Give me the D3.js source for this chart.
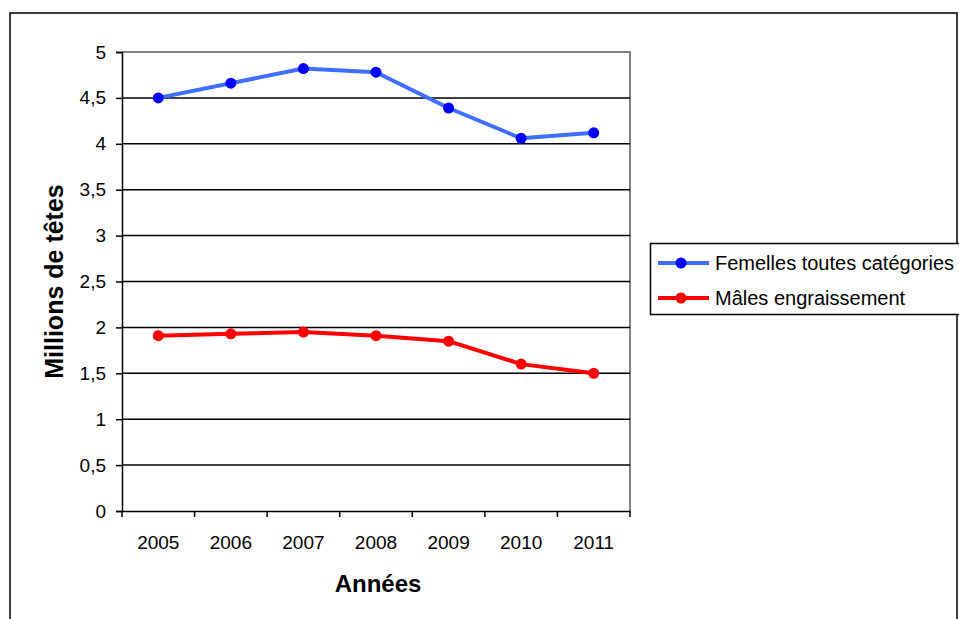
<!DOCTYPE html>
<html>
<head>
<meta charset="utf-8">
<script src="https://cdn.jsdelivr.net/npm/d3@7"></script>
<style>
  html, body { margin: 0; padding: 0; background: #fff; }
  svg { display: block; font-family: "Liberation Sans", Arial, sans-serif; }
</style>
</head>
<body>
<svg id="chart" width="959" height="619"></svg>
<script>
// Cheptel par année (millions de têtes)
const years = ["2005", "2006", "2007", "2008", "2009", "2010", "2011"];
const femelles = [4.5, 4.66, 4.82, 4.78, 4.39, 4.06, 4.12];
const males = [1.91, 1.93, 1.95, 1.91, 1.85, 1.6, 1.5];
const yTicks = [0, 0.5, 1, 1.5, 2, 2.5, 3, 3.5, 4, 4.5, 5];
const seriesNames = ["Femelles toutes catégories", "Mâles engraissement"];

const svg = d3.select("#chart");
const FONT = "Liberation Sans, Arial, sans-serif";

// outer frame
svg.append("rect")
  .attr("x", 10).attr("y", 13).attr("width", 947).attr("height", 620)
  .attr("fill", "#fff").attr("stroke", "#000").attr("stroke-width", 1.5);

const plot = { left: 122, top: 52, right: 630, bottom: 511 };

const x = d3.scaleBand().domain(years).range([plot.left, plot.right]);
const y = d3.scaleLinear().domain([0, 5]).range([plot.bottom, plot.top]);

// plot frame (top and right in grey)
svg.append("path")
  .attr("d", `M${plot.left},${plot.top}H${plot.right}V${plot.bottom}`)
  .attr("fill", "none").attr("stroke", "#808080").attr("stroke-width", 2);

// horizontal gridlines
svg.append("g").selectAll("line")
  .data(yTicks.filter(t => t > 0 && t < 5))
  .join("line")
  .attr("x1", plot.left).attr("x2", plot.right)
  .attr("y1", d => y(d)).attr("y2", d => y(d))
  .attr("stroke", "#000").attr("stroke-width", 1.5);

// y axis
const yAxis = d3.axisLeft(y).tickValues(yTicks)
  .tickFormat(d => String(d).replace(".", ","))
  .tickSize(6).tickPadding(10);
const gy = svg.append("g").attr("transform", `translate(${plot.left},0)`).call(yAxis);
gy.select(".domain").attr("stroke", "#000").attr("stroke-width", 1.5);
gy.selectAll(".tick line").attr("stroke", "#000").attr("stroke-width", 1.5);
gy.selectAll(".tick text").attr("font-size", 19).attr("fill", "#000")
  .attr("font-family", FONT);

// x axis with ticks at category boundaries
const xAxis = d3.axisBottom(x).tickSize(0).tickPadding(25);
const gx = svg.append("g").attr("transform", `translate(0,${plot.bottom})`).call(xAxis);
gx.select(".domain").attr("stroke", "#000").attr("stroke-width", 1.5);
gx.selectAll(".tick text").attr("font-size", 19).attr("fill", "#000")
  .attr("font-family", FONT);
const bounds = years.map(d => x(d)).concat([x(years[years.length - 1]) + x.bandwidth()]);
svg.append("g").selectAll("line")
  .data(bounds)
  .join("line")
  .attr("x1", d => d).attr("x2", d => d)
  .attr("y1", plot.bottom).attr("y2", plot.bottom + 6)
  .attr("stroke", "#000").attr("stroke-width", 1.5);

// axis titles
svg.append("text")
  .attr("x", (plot.left + plot.right) / 2 + 2).attr("y", 592)
  .attr("text-anchor", "middle").attr("font-size", 24).attr("font-weight", "bold")
  .text("Années");
svg.append("text")
  .attr("transform", `translate(63,${(plot.top + plot.bottom) / 2}) rotate(-90)`)
  .attr("text-anchor", "middle").attr("font-size", 25).attr("font-weight", "bold")
  .text("Millions de têtes");

// series
const series = [
  { name: seriesNames[0], values: femelles, line: "#3f6fff", dot: "#0000ff" },
  { name: seriesNames[1], values: males, line: "#ff0000", dot: "#ff0000" }
];
const cx = d => x(d) + x.bandwidth() / 2;
const lineGen = d3.line().x(d => cx(d.year)).y(d => y(d.v));

series.forEach(s => {
  const pts = years.map((yr, i) => ({ year: yr, v: s.values[i] }));
  svg.append("path").datum(pts)
    .attr("d", lineGen).attr("fill", "none")
    .attr("stroke", s.line).attr("stroke-width", 4).attr("stroke-linejoin", "round");
  svg.append("g").selectAll("circle").data(pts).join("circle")
    .attr("cx", d => cx(d.year)).attr("cy", d => y(d.v)).attr("r", 5.5)
    .attr("fill", s.dot);
});

// legend
const lg = svg.append("g");
lg.append("rect")
  .attr("x", 650.5).attr("y", 243.5).attr("width", 320).attr("height", 71)
  .attr("fill", "#fff").attr("stroke", "#000").attr("stroke-width", 1.5);
series.forEach((s, i) => {
  const ly = 263 + i * 35;
  lg.append("line").attr("x1", 658).attr("x2", 709).attr("y1", ly).attr("y2", ly)
    .attr("stroke", s.line).attr("stroke-width", 4);
  lg.append("circle").attr("cx", 681).attr("cy", ly).attr("r", 5.5).attr("fill", s.dot);
  lg.append("text").attr("x", 715).attr("y", ly).attr("dy", "0.35em")
    .attr("font-size", 20).attr("font-family", FONT).text(s.name);
});
</script>
</body>
</html>
